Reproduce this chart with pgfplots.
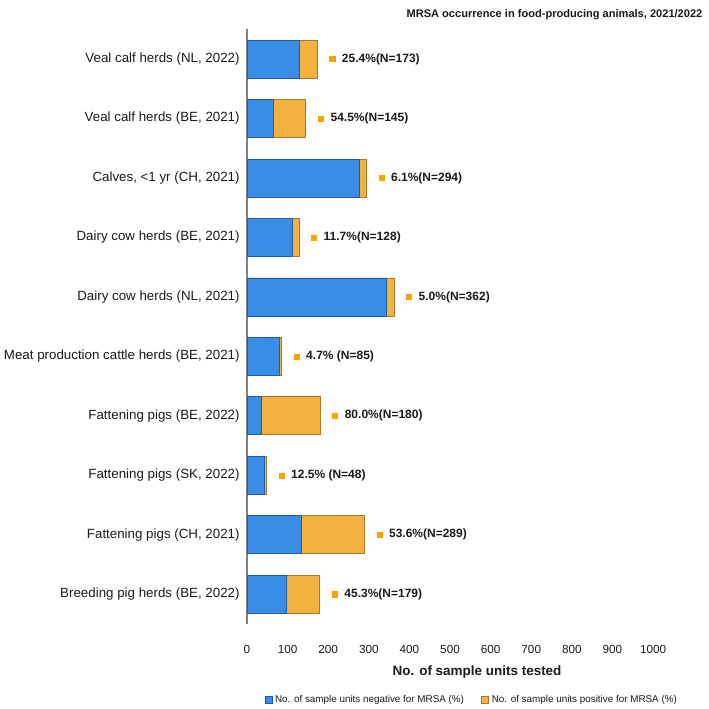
\documentclass[border=0pt]{standalone}
\usepackage{fontspec}
\setmainfont{Liberation Sans}
\usepackage{pgfplots}
\pgfplotsset{compat=1.18}
\definecolor{negblue}{HTML}{3A8DE6}
\definecolor{negblueD}{HTML}{1F5EA6}
\definecolor{posor}{HTML}{F4B13F}
\definecolor{posorD}{HTML}{A8782A}
\definecolor{mk}{HTML}{FFA200}
\definecolor{txt}{HTML}{1A1A1A}
\begin{document}
\begin{tikzpicture}
\begin{axis}[
  scale only axis, width=335pt, height=446pt,
  xmin=0, xmax=1100, ymin=-0.5, ymax=9.5,
  clip=false,
  axis lines*=left,
  x axis line style={draw=none},
  y axis line style={draw=gray, line width=0.8pt},
  major tick length=0pt,
  xtick={0,100,...,1000},
  ytick={0,...,9},
  yticklabels={{Breeding pig herds (BE, 2022)},{Fattening pigs (CH, 2021)},{Fattening pigs (SK, 2022)},{Fattening pigs (BE, 2022)},{Meat production cattle herds (BE, 2021)},{Dairy cow herds (NL, 2021)},{Dairy cow herds (BE, 2021)},{Calves, <1 yr (CH, 2021)},{Veal calf herds (BE, 2021)},{Veal calf herds (NL, 2022)}},
  yticklabel style={font=\fontsize{10}{12}\selectfont, text=txt, xshift=-2pt},
  xticklabel style={font=\fontsize{8.8}{10}\selectfont, text=txt, yshift=-12.5pt},
  /pgf/number format/assume math mode=true,
  /pgf/number format/1000 sep={},
  xlabel={No. of sample units tested},
  xlabel style={font=\bfseries\fontsize{10.1}{12}\selectfont, text=txt, at={(axis description cs:0.515,-0.081)}, anchor=center},
  title={MRSA occurrence in food-producing animals, 2021/2022},
  title style={font=\bfseries\fontsize{8.3}{10}\selectfont, text=txt, at={(axis description cs:1.030,1.012)}, anchor=east},
  legend image code/.code={\draw[#1, line width=0.6pt] (0pt,-2.6pt) rectangle (5.2pt,2.6pt);},
  legend style={at={(axis description cs:0.504,-0.128)}, anchor=center, draw=none, fill=none,
    font=\fontsize{7.4}{9}\selectfont, text=txt,
    /tikz/every even column/.append style={column sep=11pt}},
  legend columns=2,
  legend cell align=left,
]
\addlegendimage{fill=negblue, draw=negblueD}
\addlegendentry{No. of sample units negative for MRSA (\%)}
\addlegendimage{fill=posor, draw=posorD}
\addlegendentry{No. of sample units positive for MRSA (\%)}

% total N (orange, positive part visible beyond the negative part)
\addplot[xbar, bar shift=0pt, bar width=28.5pt, fill=posor, draw=posorD, line width=0.6pt, forget plot]
  coordinates {(179,0) (289,1) (48,2) (180,3) (85,4) (362,5) (128,6) (294,7) (145,8) (173,9)};
% negative counts (blue)
\addplot[xbar, bar shift=0pt, bar width=28.5pt, fill=negblue, draw=negblueD, line width=0.6pt, forget plot]
  coordinates {(98,0) (134,1) (42,2) (36,3) (81,4) (344,5) (113,6) (276,7) (66,8) (129,9)};
% value labels
\addplot[only marks, mark=square*, mark size=1.9pt, mark options={fill=mk, draw=mk},
  point meta=explicit symbolic, nodes near coords,
  nodes near coords style={anchor=west, xshift=3.75pt, text=txt, font=\bfseries\fontsize{9}{11}\selectfont},
  forget plot]
  coordinates {
  (216,0) [{45.3\%(N=179)}]
  (326,1) [{53.6\%(N=289)}]
  (85,2) [{12.5\% (N=48)}]
  (217,3) [{80.0\%(N=180)}]
  (122,4) [{4.7\% (N=85)}]
  (399,5) [{5.0\%(N=362)}]
  (165,6) [{11.7\%(N=128)}]
  (331,7) [{6.1\%(N=294)}]
  (182,8) [{54.5\%(N=145)}]
  (210,9) [{25.4\%(N=173)}]
  };
\end{axis}
\pgfresetboundingbox
\path (-185.25pt,-63pt) rectangle (346.5pt,468pt);
\end{tikzpicture}
\end{document}
